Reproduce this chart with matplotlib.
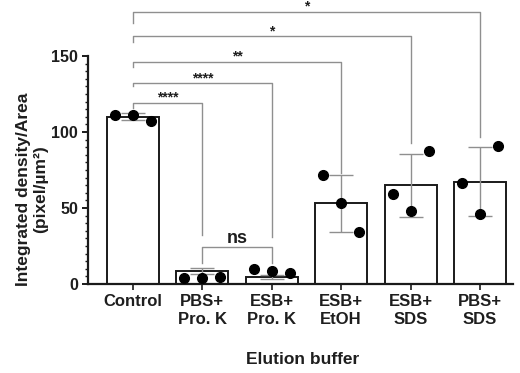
import matplotlib
matplotlib.use("Agg")
import matplotlib.pyplot as plt
from matplotlib.ticker import MultipleLocator

plt.rcParams['font.family'] = ['Liberation Sans', 'DejaVu Sans']

# Groups and summary values
groups = ["Control", "PBS+\nPro. K", "ESB+\nPro. K", "ESB+\nEtOH", "ESB+\nSDS", "PBS+\nSDS"]
means = [110.0, 8.5, 4.6, 53.0, 64.8, 67.3]
sds = [2.4, 2.0, 1.5, 18.5, 20.5, 22.5]

# Individual replicates (left, middle, right within each bar)
replicates = [
    [111.0, 111.0, 107.0],
    [4.0, 4.0, 4.6],
    [9.9, 8.6, 7.0],
    [71.5, 53.0, 34.0],
    [59.0, 48.0, 87.5],
    [66.5, 46.0, 91.0],
]
jitter = [-0.26, 0.0, 0.26]

# Comparisons against Control: target group, bracket height, left/right leg ends, label
cmp_target = [1, 2, 3, 4, 5]
cmp_top = [119, 132, 146, 163, 179]
cmp_left_end = [116, 130, 143, 159, 172]
cmp_right_end = [32, 31, 73, 93, 97]
cmp_label = ["****", "****", "**", "*", "*"]

# PBS+Pro. K vs ESB+Pro. K
ns_pair = (1, 2)
ns_top = 24.5
ns_end = 14.0
ns_label = "ns"

fig = plt.figure(figsize=(5.2, 3.73), dpi=100)
ax = fig.add_axes([0.169, 0.2386, 0.818, 0.6113])

x = list(range(len(groups)))
edge = "#1a1a1a"
grey = "#8f8f8f"
text_col = "#1e1e1e"

ax.bar(x, means, width=0.75, color="white", edgecolor=edge, linewidth=1.4, zorder=2)
ax.errorbar(x, means, yerr=sds, fmt="none", ecolor=grey, elinewidth=1.0,
            capsize=8.5, capthick=1.0, zorder=3)
for i, vals in enumerate(replicates):
    ax.plot([i + j for j in jitter], vals, "o", color="black", markersize=7,
            zorder=4, clip_on=False)

# Significance brackets
for t, top, le, re, lab in zip(cmp_target, cmp_top, cmp_left_end, cmp_right_end, cmp_label):
    ax.plot([0, 0, t, t], [le, top, top, re], color=grey, lw=1.0, clip_on=False, zorder=1)
    ax.text(t / 2, top + 0.8, lab, ha="center", va="baseline", fontsize=10,
            fontweight="bold", color=text_col, clip_on=False)

a, b = ns_pair
ax.plot([a, a, b, b], [ns_end, ns_top, ns_top, ns_end], color=grey, lw=1.0, zorder=1)
ax.text((a + b) / 2, ns_top + 2.4, ns_label, ha="center", va="baseline", fontsize=13,
        fontweight="bold", color=text_col)

ax.set_xlim(-0.65, 5.48)
ax.set_ylim(0, 150)
ax.yaxis.set_major_locator(MultipleLocator(50))
ax.yaxis.set_minor_locator(MultipleLocator(5))
ax.set_xticks(x)
ax.set_xticklabels(groups, fontsize=12, fontweight="bold", color=text_col,
                   linespacing=1.25)
for lbl in ax.get_yticklabels():
    lbl.set_fontweight("bold")
ax.tick_params(axis="y", which="major", length=4, width=1.4, labelsize=11.5, pad=3,
               colors=edge, labelcolor=text_col)
ax.tick_params(axis="y", which="minor", length=2.5, width=1.0, colors=edge)
ax.tick_params(axis="x", which="major", length=4, width=1.2, pad=3, colors=edge,
               labelcolor=text_col)
for s in ("top", "right"):
    ax.spines[s].set_visible(False)
for s in ("left", "bottom"):
    ax.spines[s].set_linewidth(1.6)
    ax.spines[s].set_color(edge)

ax.set_ylabel("Integrated density/Area\n(pixel/µm²)", fontsize=12.5,
              fontweight="bold", color=text_col, va="center", linespacing=1.2)
ax.yaxis.set_label_coords(-0.131, 0.415)
ax.set_xlabel("Elution buffer", fontsize=12.5, fontweight="bold", color=text_col,
              va="center")
ax.xaxis.set_label_coords(0.506, -0.333)

fig.savefig("out.png", dpi=100)
